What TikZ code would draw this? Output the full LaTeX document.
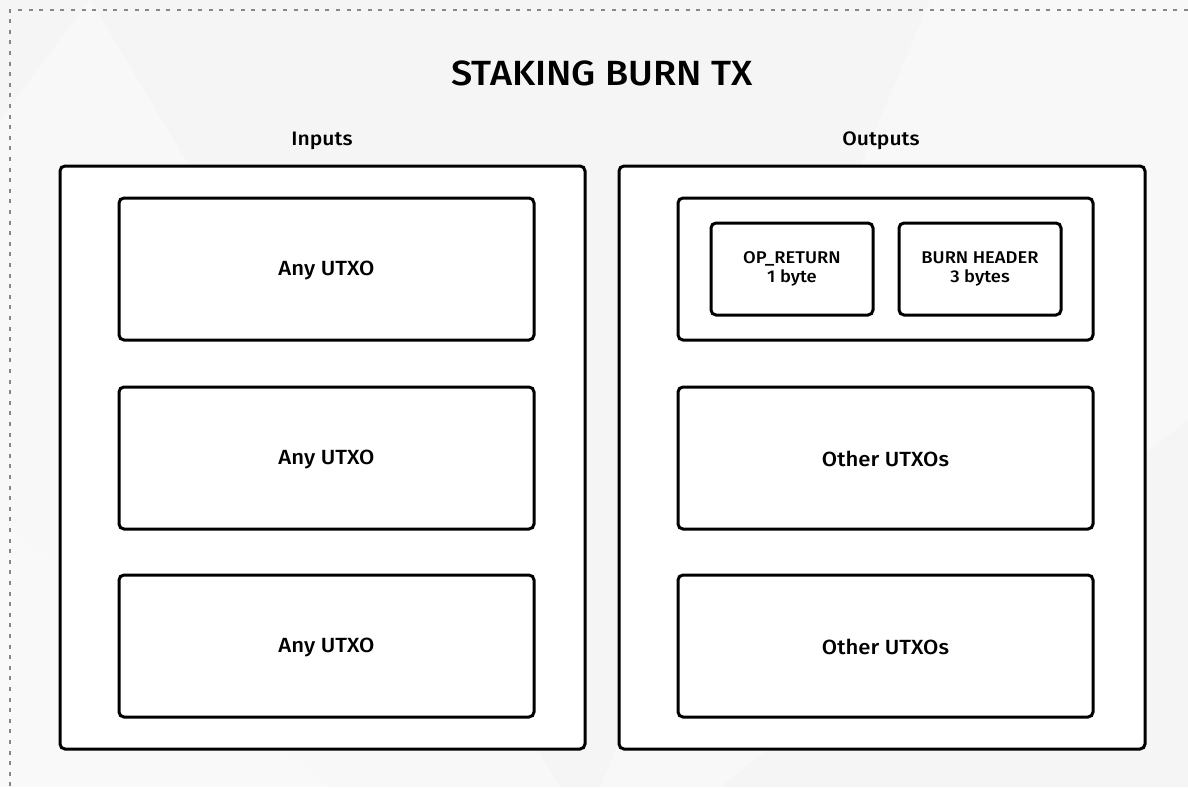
\documentclass[tikz,border=0pt]{standalone}
\usepackage{fontspec}
\setmainfont{Fira Sans}[UprightFont={* Medium},FakeStretch=1.08]
\begin{document}
\begin{tikzpicture}[x=1pt,y=-1pt,
  outerbox/.style={draw=black,line width=3pt,rounded corners=5pt,fill=white},
  innerbox/.style={draw=black,line width=3pt,rounded corners=5pt,fill=white},
  fieldbox/.style={draw=black,line width=3pt,rounded corners=5pt,fill=white,
    align=center,font=\fontsize{17}{19.5}\selectfont},
  boxlabel/.style={font=\fontsize{20.5}{24}\selectfont},
  colhead/.style={font=\fontsize{19.5}{23}\selectfont},
  frame/.style={draw=black!47,line width=2.6pt,dash pattern=on 4pt off 6.6pt}]
% canvas
\useasboundingbox (0,0) rectangle (1188,787);
\fill[black!4] (0,0) rectangle (1188,787);
\fill[white,opacity=0.35] (90,0) -- (560,787) -- (0,787) -- (0,120) -- cycle;
\fill[white,opacity=0.3] (930,0) -- (1188,0) -- (1188,420) -- (720,787) -- (600,787) -- cycle;
\fill[white,opacity=0.25] (0,520) -- (330,787) -- (0,787) -- cycle;
% dashed frame (top and left edges)
\draw[frame] (1188,10) -- (10,10) -- (10,787);
% title
\node[font=\fontsize{35}{41}\selectfont] (title) at (602,73) {STAKING BURN TX};
% column headings
\node[colhead] (inhead) at (322,141) {Inputs};
\node[colhead] (outhead) at (881,141) {Outputs};
% outer containers
\draw[outerbox] (60,166) rectangle (585,749);
\draw[outerbox] (619,166) rectangle (1145,749);
% inputs
\draw[innerbox] (119,198) rectangle (534,340);
\node[boxlabel] (in1) at (326.5,270) {Any UTXO};
\draw[innerbox] (119,387) rectangle (534,529);
\node[boxlabel] (in2) at (326.5,459) {Any UTXO};
\draw[innerbox] (119,575) rectangle (534,717);
\node[boxlabel] (in3) at (326.5,647) {Any UTXO};
% outputs
\draw[innerbox] (678,198) rectangle (1093,340);
\node[fieldbox,minimum width=162pt,minimum height=92pt] (opret) at (792,269) {OP\_RETURN\\1 byte};
\node[fieldbox,minimum width=162pt,minimum height=92pt] (burnhdr) at (980,269) {BURN HEADER\\3 bytes};
\draw[innerbox] (678,387) rectangle (1093,529);
\node[boxlabel] (out2) at (885.5,459) {Other UTXOs};
\draw[innerbox] (678,575) rectangle (1093,717);
\node[boxlabel] (out3) at (885.5,647) {Other UTXOs};
\end{tikzpicture}
\end{document}
